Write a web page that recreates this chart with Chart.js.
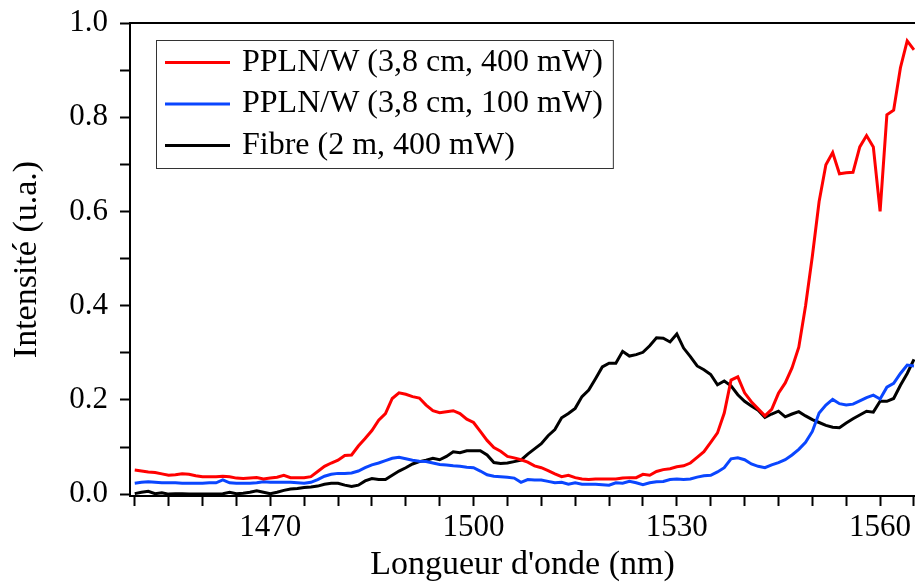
<!DOCTYPE html>
<html><head><meta charset="utf-8">
<script src="https://cdn.jsdelivr.net/npm/chart.js@4.4.1/dist/chart.umd.min.js"></script>
<style>html,body{margin:0;padding:0;background:#fff;}canvas{display:block;}</style>
</head><body>
<canvas id="c" width="915" height="583"></canvas>
<script>
const wavelengths = [1450,1451,1452,1453,1454,1455,1456,1457,1458,1459,1460,1461,1462,1463,1464,1465,1466,1467,1468,1469,
1470,1471,1472,1473,1474,1475,1476,1477,1478,1479,1480,1481,1482,1483,1484,1485,1486,1487,1488,1489,
1490,1491,1492,1493,1494,1495,1496,1497,1498,1499,1500,1501,1502,1503,1504,1505,1506,1507,1508,1509,
1510,1511,1512,1513,1514,1515,1516,1517,1518,1519,1520,1521,1522,1523,1524,1525,1526,1527,1528,1529,
1530,1531,1532,1533,1534,1535,1536,1537,1538,1539,1540,1541,1542,1543,1544,1545,1546,1547,1548,1549,
1550,1551,1552,1553,1554,1555,1556,1557,1558,1559,1560,1561,1562,1563,1564,1565];

const pplnHigh = [0.051,0.049,0.047,0.046,0.043,0.040,0.041,0.043,0.042,0.039,0.037,0.037,0.037,0.038,0.037,0.034,0.033,0.034,0.035,0.032,
0.034,0.036,0.040,0.035,0.035,0.035,0.037,0.048,0.059,0.066,0.072,0.082,0.083,0.102,0.118,0.135,0.157,0.171,0.203,0.215,
0.212,0.207,0.204,0.189,0.177,0.173,0.175,0.177,0.171,0.159,0.152,0.133,0.114,0.099,0.091,0.080,0.077,0.073,0.068,0.060,
0.056,0.050,0.043,0.037,0.040,0.035,0.032,0.031,0.032,0.032,0.032,0.032,0.034,0.035,0.035,0.042,0.040,0.048,0.052,0.054,
0.058,0.060,0.066,0.078,0.090,0.110,0.130,0.172,0.242,0.249,0.215,0.196,0.181,0.166,0.180,0.214,0.236,0.268,0.312,0.400,
0.505,0.621,0.699,0.725,0.680,0.682,0.683,0.737,0.761,0.737,0.600,0.805,0.815,0.905,0.962,0.943];

const pplnLow = [0.023,0.025,0.026,0.025,0.024,0.024,0.024,0.023,0.023,0.023,0.023,0.024,0.024,0.030,0.024,0.023,0.023,0.023,0.024,0.026,
0.025,0.025,0.025,0.025,0.024,0.023,0.025,0.031,0.038,0.042,0.044,0.044,0.045,0.049,0.056,0.062,0.066,0.071,0.076,0.078,
0.075,0.072,0.070,0.069,0.066,0.063,0.062,0.060,0.059,0.057,0.056,0.049,0.041,0.038,0.037,0.036,0.034,0.025,0.031,0.030,
0.030,0.027,0.024,0.025,0.021,0.024,0.021,0.021,0.021,0.020,0.019,0.024,0.023,0.027,0.024,0.020,0.024,0.026,0.027,0.031,
0.032,0.031,0.032,0.036,0.039,0.040,0.047,0.056,0.075,0.077,0.073,0.064,0.059,0.056,0.062,0.067,0.073,0.083,0.095,0.110,
0.133,0.172,0.189,0.201,0.192,0.189,0.191,0.198,0.205,0.210,0.202,0.227,0.235,0.256,0.274,0.272];

const fibre = [0.001,0.004,0.006,0.001,0.003,0.000,0.001,0.001,0.000,0.000,0.000,0.000,0.000,0.001,0.004,0.001,0.002,0.004,0.007,0.004,
0.001,0.004,0.008,0.011,0.012,0.014,0.015,0.017,0.021,0.023,0.023,0.019,0.016,0.019,0.028,0.033,0.031,0.031,0.040,0.049,
0.056,0.064,0.069,0.072,0.076,0.073,0.080,0.090,0.088,0.092,0.092,0.092,0.083,0.067,0.065,0.066,0.069,0.072,0.085,0.096,
0.107,0.124,0.137,0.162,0.171,0.182,0.207,0.221,0.245,0.270,0.278,0.278,0.303,0.293,0.296,0.301,0.315,0.332,0.331,0.323,
0.340,0.310,0.292,0.272,0.264,0.254,0.232,0.240,0.230,0.211,0.197,0.187,0.178,0.163,0.170,0.176,0.164,0.170,0.175,0.166,
0.158,0.152,0.146,0.142,0.141,0.151,0.160,0.168,0.176,0.174,0.197,0.197,0.203,0.231,0.256,0.286];

const seriesLabels = ['PPLN/W (3,8 cm, 400 mW)', 'PPLN/W (3,8 cm, 100 mW)', 'Fibre (2 m, 400 mW)'];
const seriesColors = ['#ff0000', '#0a46ff', '#000000'];

const xTickValues = [1450,1455,1460,1465,1470,1475,1480,1485,1490,1495,1500,1505,1510,1515,1520,1525,1530,1535,1540,1545,1550,1555,1560,1565];
const xTickLabels = [1470,1500,1530,1560];
const yTickValues = [0,0.1,0.2,0.3,0.4,0.5,0.6,0.7,0.8,0.9,1.0];
const yTickLabels = [0,0.2,0.4,0.6,0.8,1.0];

const xTitle = "Longueur d'onde (nm)";
const yTitle = 'Intensité (u.a.)';

const FONT = "'Liberation Serif', 'Times New Roman', serif";

function pairs(vals){ return wavelengths.map((w,i)=>({x:w, y:vals[i]})); }

const boxLegend = {
  id: 'boxLegend',
  afterDraw(chart){
    const ctx = chart.ctx, a = chart.chartArea;
    ctx.save();
    ctx.strokeStyle = '#000'; ctx.lineWidth = 2;
    ctx.beginPath(); ctx.moveTo(a.left - 1, a.top); ctx.lineTo(a.right, a.top); ctx.stroke();
    ctx.font = '32px ' + FONT;
    const ds = chart.data.datasets;
    const tw = Math.max(...ds.map(d => ctx.measureText(d.label).width));
    const x0 = a.left + 26, y0 = a.top + 17;
    const w = 9 + 65 + 12 + tw + 10, h = 128, rowH = 41.5;
    ctx.fillStyle = '#fff'; ctx.fillRect(x0, y0, w, h);
    ctx.strokeStyle = '#333'; ctx.lineWidth = 1; ctx.strokeRect(x0 + 0.5, y0 + 0.5, w, h);
    ds.forEach((d, i) => {
      const cy = y0 + 22.5 + i * rowH;
      ctx.strokeStyle = d.borderColor; ctx.lineWidth = 3;
      ctx.beginPath(); ctx.moveTo(x0 + 9, cy); ctx.lineTo(x0 + 74, cy); ctx.stroke();
      ctx.fillStyle = '#000'; ctx.textBaseline = 'middle'; ctx.textAlign = 'left';
      ctx.fillText(d.label, x0 + 86, cy);
    });
    ctx.restore();
  }
};

new Chart(document.getElementById('c'), {
  type: 'line',
  data: {
    datasets: [
      {label: seriesLabels[0], data: pairs(pplnHigh), borderColor: seriesColors[0]},
      {label: seriesLabels[1], data: pairs(pplnLow), borderColor: seriesColors[1]},
      {label: seriesLabels[2], data: pairs(fibre), borderColor: seriesColors[2]}
    ].map(d => Object.assign(d, {borderWidth: 3, pointRadius: 0, tension: 0, fill: false}))
  },
  options: {
    responsive: false,
    devicePixelRatio: 1,
    animation: false,
    layout: {autoPadding: false, padding: {top: 23, right: 0, left: 0, bottom: 0}},
    plugins: {legend: {display: false}, tooltip: {enabled: false}},
    scales: {
      x: {
        type: 'linear', min: 1449.3, max: 1565.15,
        afterBuildTicks: s => { s.ticks = xTickValues.map(v => ({value: v})); },
        afterFit: s => { s.height = 87; s.paddingLeft = 0; s.paddingRight = 0; },
        grid: {drawOnChartArea: false, drawTicks: true, tickLength: 10, tickWidth: 2, tickColor: '#000'},
        border: {display: true, color: '#000', width: 2},
        ticks: {
          autoSkip: false, maxRotation: 0, padding: 6, color: '#000',
          font: {family: FONT, size: 31, lineHeight: 1},
          callback: v => xTickLabels.includes(v) ? String(v) : ''
        },
        title: {display: true, text: xTitle, color: '#000', font: {family: FONT, size: 34, lineHeight: 1}, padding: {top: 0, bottom: 1}}
      },
      y: {
        type: 'linear', min: -0.004, max: 1.0,
        afterBuildTicks: s => { s.ticks = yTickValues.map(v => ({value: v})); },
        afterFit: s => { s.width = 130; s.paddingTop = 0; s.paddingBottom = 0; },
        grid: {drawOnChartArea: false, drawTicks: true, tickLength: 10, tickWidth: 2, tickColor: '#000'},
        border: {display: true, color: '#000', width: 2},
        ticks: {
          autoSkip: false, padding: 12, color: '#000',
          font: {family: FONT, size: 31, lineHeight: 1},
          callback: v => yTickLabels.some(t => Math.abs(t - v) < 1e-9) ? v.toFixed(1) : ''
        },
        title: {display: true, text: yTitle, color: '#000', font: {family: FONT, size: 34, lineHeight: 1}, padding: {top: 10, bottom: 0}}
      }
    }
  },
  plugins: [boxLegend]
});
</script>
</body></html>
